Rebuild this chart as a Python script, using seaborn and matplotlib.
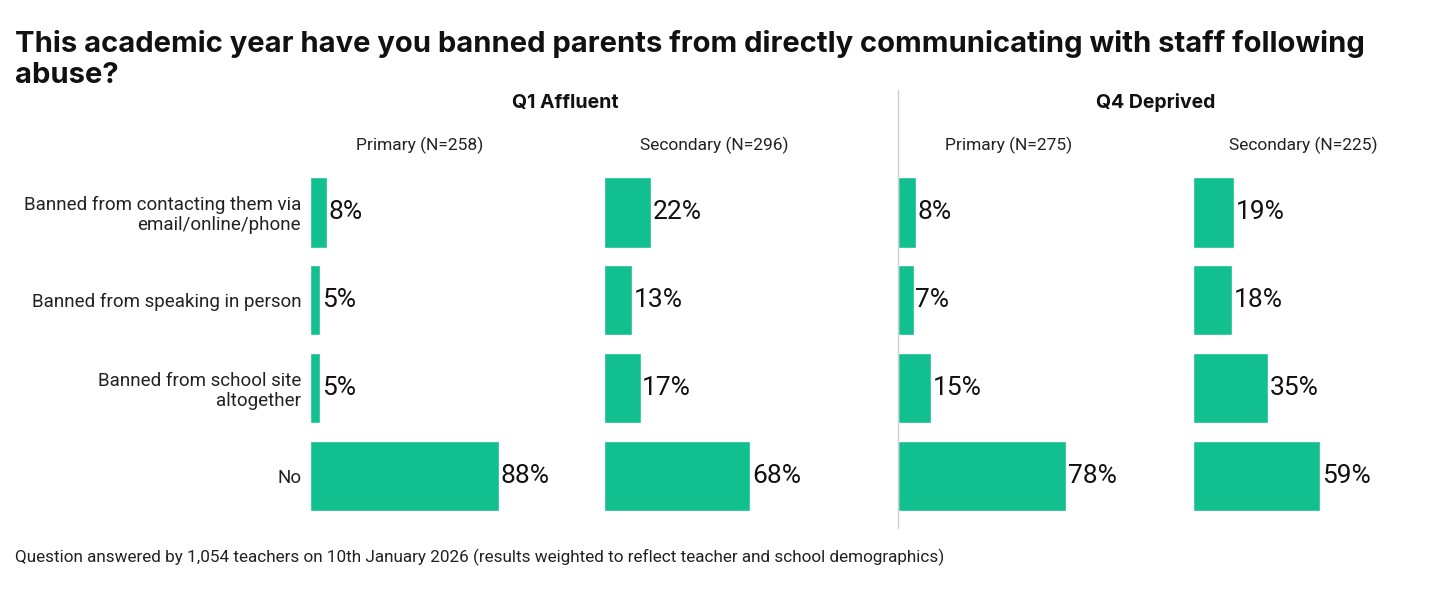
import matplotlib
matplotlib.use("Agg")
import matplotlib.pyplot as plt
import seaborn as sns
import pandas as pd
from matplotlib.lines import Line2D

categories = ["Banned from contacting them via\nemail/online/phone",
              "Banned from speaking in person",
              "Banned from school site\naltogether",
              "No"]
q1_primary = [8, 5, 5, 88]
q1_secondary = [22, 13, 17, 68]
q4_primary = [8, 7, 15, 78]
q4_secondary = [19, 18, 35, 59]
panel_titles = ["Primary (N=258)", "Secondary (N=296)", "Primary (N=275)", "Secondary (N=225)"]
group_titles = ["Q1 Affluent", "Q4 Deprived"]
series = [q1_primary, q1_secondary, q4_primary, q4_secondary]

title = "This academic year have you banned parents from directly communicating with staff following\nabuse?"
footer = "Question answered by 1,054 teachers on 10th January 2026 (results weighted to reflect teacher and school demographics)"

sns.set_theme(style="white")
plt.rcParams['font.family'] = ['Roboto', 'DejaVu Sans']
BOLD = ['Inter', 'DejaVu Sans']

GREEN = "#12BF8F"
W, H = 1440, 600
fig = plt.figure(figsize=(14.4, 6.0), dpi=100)

lefts = [309.5, 604, 898.5, 1193]
pw = 215
top_px, bot_px = 168.5, 520
for i, (vals, ptitle) in enumerate(zip(series, panel_titles)):
    ax = fig.add_axes([lefts[i] / W, 1 - bot_px / H, pw / W, (bot_px - top_px) / H])
    df = pd.DataFrame({"cat": categories, "val": vals})
    sns.barplot(data=df, y="cat", x="val", orient="h", color=GREEN, width=0.8,
                saturation=1, ax=ax)
    ax.set_xlim(0, 100)
    ax.set_ylim(3.5, -0.5)
    ax.set_xlabel("")
    ax.set_ylabel("")
    ax.set_xticks([])
    for s in ax.spines.values():
        s.set_visible(False)
    if i == 0:
        ax.tick_params(axis="y", length=0, pad=6, labelsize=13.5, labelcolor="#222222")
        for t in ax.get_yticklabels():
            t.set_horizontalalignment("right")
            t.set_multialignment("right")
            t.set_linespacing(1.1)
    else:
        ax.set_yticklabels([])
        ax.tick_params(axis="y", length=0)
    for j, c in enumerate(ax.containers[0]):
        ax.text(c.get_width() + 0.8, c.get_y() + c.get_height() / 2, f"{vals[j]}%",
                va="center", ha="left", fontsize=19, color="#111111")
    fig.text((lefts[i] + pw / 2 + 3) / W, 1 - 145 / H, ptitle, ha="center", va="center",
             fontsize=12.5, color="#222222")

fig.text(565 / W, 1 - 103 / H, group_titles[0], ha="center", va="center",
         fontsize=14, fontweight="bold", color="#111111", family=BOLD)
fig.text(1156 / W, 1 - 103 / H, group_titles[1], ha="center", va="center",
         fontsize=14, fontweight="bold", color="#111111", family=BOLD)

fig.add_artist(Line2D([898 / W, 898 / W], [1 - 90 / H, 1 - 528 / H], color="#d0d0d0", lw=1))

fig.text(15 / W, 1 - 30 / H, title, ha="left", va="top", fontsize=21, fontweight="bold",
         color="#111111", linespacing=1.2, family=BOLD)
fig.text(15 / W, 1 - 557 / H, footer, ha="left", va="center", fontsize=12.3, color="#222222")

fig.savefig("out.png", dpi=100)
